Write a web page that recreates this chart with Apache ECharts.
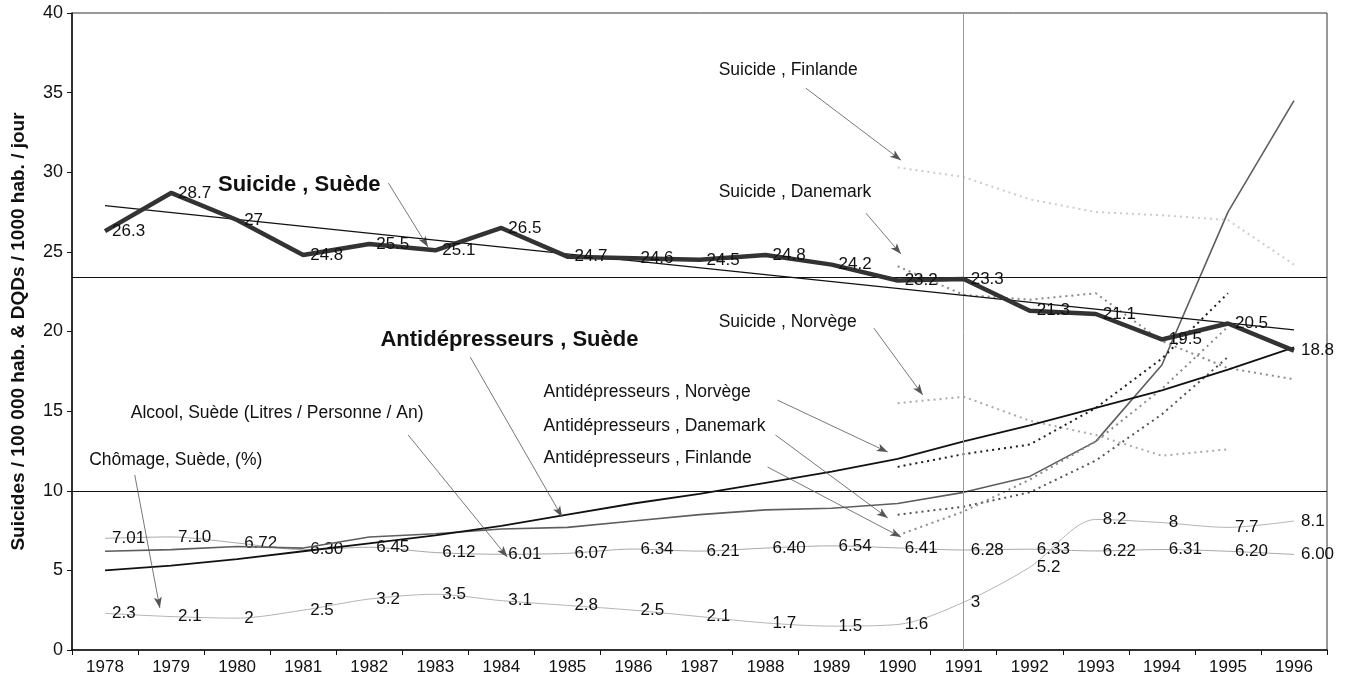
<!DOCTYPE html>
<html>
<head>
<meta charset="utf-8">
<script src="https://cdn.jsdelivr.net/npm/echarts@6/dist/echarts.min.js"></script>
<style>
  html, body { margin: 0; padding: 0; background: #fff; }
  #main_chart { width: 1345px; height: 686px; }
</style>
</head>
<body>
<div id="main_chart"></div>
<script>
// annees
var annees = ['1978', '1979', '1980', '1981', '1982', '1983', '1984', '1985', '1986', '1987',
              '1988', '1989', '1990', '1991', '1992', '1993', '1994', '1995', '1996'];
var graduationsY = [0, 5, 10, 15, 20, 25, 30, 35, 40];

// Suède
var suicideSuede = [26.3, 28.7, 27, 24.8, 25.5, 25.1, 26.5, 24.7, 24.6, 24.5, 24.8, 24.2, 23.2, 23.3, 21.3, 21.1, 19.5, 20.5, 18.8];
var tendanceSuicide = [27.9, null, null, null, null, null, null, null, null, null, null, null, null, null, null, null, null, null, 20.1];
var antidepSuede = [5.0, 5.3, 5.7, 6.2, 6.7, 7.2, 7.8, 8.5, 9.2, 9.8, 10.5, 11.2, 12.0, 13.1, 14.1, 15.2, 16.3, 17.6, 19.0];
var ligneGrise = [6.2, 6.3, 6.5, 6.4, 7.1, 7.3, 7.6, 7.7, 8.1, 8.5, 8.8, 8.9, 9.2, 9.9, 10.9, 13.1, 17.9, 27.5, 34.5];
var alcoolSuede = [7.01, 7.10, 6.72, 6.30, 6.45, 6.12, 6.01, 6.07, 6.34, 6.21, 6.40, 6.54, 6.41, 6.28, 6.33, 6.22, 6.31, 6.20, 6.00];
var chomageSuede = [2.3, 2.1, 2, 2.5, 3.2, 3.5, 3.1, 2.8, 2.5, 2.1, 1.7, 1.5, 1.6, 3, 5.2, 8.2, 8, 7.7, 8.1];

// autres pays (a partir de 1990)
var vide = [null, null, null, null, null, null, null, null, null, null, null, null];
var suicideFinlande = vide.concat([30.3, 29.7, 28.3, 27.5, 27.3, 27.0, 24.2]);
var suicideDanemark = vide.concat([24.1, 22.3, 22.0, 22.4, 19.4, 17.7, 17.0]);
var suicideNorvege = vide.concat([15.5, 15.9, 14.4, 13.5, 12.2, 12.6, null]);
var antidepNorvege = vide.concat([11.5, 12.3, 12.9, 15.2, 18.3, 22.4, null]);
var antidepDanemark = vide.concat([8.5, 9.0, 9.9, 11.9, 14.8, 18.4, null]);
var antidepFinlande = vide.concat([7.2, 8.7, 10.7, 13.1, 16.4, 20.3, null]);

// lignes de repere
var reperesY = [10, 23.4];
var repereX = '1991';

// annotations (x = rang de l'annee, y = valeur)
var textes = [
  { t: 'Suicide , Suède', x: 1.71, y: 29.2, gras: true },
  { t: 'Antidépresseurs , Suède', x: 4.17, y: 19.46, gras: true },
  { t: 'Alcool, Suède (Litres / Personne / An)', x: 0.39, y: 14.88 },
  { t: 'Chômage, Suède, (%)', x: -0.24, y: 11.93 },
  { t: 'Suicide , Finlande', x: 9.29, y: 36.41 },
  { t: 'Suicide , Danemark', x: 9.29, y: 28.75 },
  { t: 'Suicide , Norvège', x: 9.29, y: 20.59 },
  { t: 'Antidépresseurs , Norvège', x: 6.64, y: 16.2 },
  { t: 'Antidépresseurs , Danemark', x: 6.64, y: 14.06 },
  { t: 'Antidépresseurs , Finlande', x: 6.64, y: 12.05 }
];
var fleches = [
  [[4.29, 29.32], [4.89, 25.3]],
  [[5.53, 18.39], [6.92, 8.35]],
  [[4.59, 13.5], [6.09, 5.84]],
  [[0.45, 10.99], [0.83, 2.64]],
  [[10.61, 35.28], [12.05, 30.76]],
  [[11.52, 27.43], [12.05, 24.86]],
  [[11.64, 20.21], [12.38, 16.01]],
  [[10.18, 15.69], [11.85, 12.43]],
  [[10.15, 13.5], [11.85, 8.29]],
  [[10.03, 11.49], [12.05, 7.09]]
];

var police = 'Liberation Sans, Arial, Helvetica, sans-serif';

function etiquettes(fmt) {
  return {
    show: true, position: 'right', distance: 7, opacity: 1,
    color: '#111', fontSize: 17, fontFamily: police,
    formatter: function (p) { return fmt(p.value); }
  };
}

function pointille(nom, donnees, couleur) {
  return {
    name: nom, type: 'line', data: donnees, symbol: 'none',
    lineStyle: { color: couleur, width: 2, type: [2, 4] }, z: 3
  };
}

var myChart = echarts.init(document.getElementById('main_chart'));

var option = {
  animation: false,
  backgroundColor: '#fff',
  grid: { left: 72, right: 18, top: 13, bottom: 36, show: true, borderColor: '#333', borderWidth: 1 },
  xAxis: [
    {
      type: 'category', data: annees, boundaryGap: true,
      axisLine: { lineStyle: { color: '#111', width: 1.5 } },
      axisTick: { show: true, interval: 0, length: 5, lineStyle: { color: '#111' } },
      axisLabel: { interval: 0, color: '#111', fontSize: 17, fontFamily: police, margin: 9 },
      splitLine: { show: false }
    },
    { type: 'value', min: -0.5, max: 18.5, show: false }
  ],
  yAxis: {
    type: 'value', min: graduationsY[0], max: graduationsY[graduationsY.length - 1], interval: 5,
    name: 'Suicides / 100 000 hab. & DQDs / 1000 hab. / jour',
    nameLocation: 'middle', nameRotate: 90, nameGap: 44,
    nameTextStyle: { fontSize: 19, fontWeight: 'bold', color: '#111', fontFamily: police },
    axisLine: { show: true, onZero: false, lineStyle: { color: '#111', width: 1.5 } },
    axisTick: { show: true, length: 5, lineStyle: { color: '#111' } },
    axisLabel: { color: '#111', fontSize: 18, fontFamily: police, margin: 9 },
    splitLine: { show: false }
  },
  series: [
    {
      name: 'Chômage, Suède', type: 'line', data: chomageSuede, symbol: 'circle', symbolSize: 0, smooth: 0.3,
      itemStyle: { color: '#b5b5b5', opacity: 1 },
      lineStyle: { color: '#b5b5b5', width: 1 }, label: etiquettes(function (v) { return String(v); }), z: 2
    },
    {
      name: 'Alcool, Suède', type: 'line', data: alcoolSuede, symbol: 'circle', symbolSize: 0, smooth: 0.3,
      itemStyle: { color: '#a8a8a8', opacity: 1 },
      lineStyle: { color: '#a8a8a8', width: 1 }, label: etiquettes(function (v) { return v.toFixed(2); }), z: 2
    },
    {
      name: 'Série grise', type: 'line', data: ligneGrise, symbol: 'none',
      lineStyle: { color: '#5e5e5e', width: 1.6 }, z: 3
    },
    {
      name: 'Antidépresseurs, Suède', type: 'line', data: antidepSuede, symbol: 'none',
      lineStyle: { color: '#111', width: 1.8 }, z: 4
    },
    pointille('Suicide, Finlande', suicideFinlande, '#cccccc'),
    pointille('Suicide, Danemark', suicideDanemark, '#8a8a8a'),
    pointille('Suicide, Norvège', suicideNorvege, '#ababab'),
    pointille('Antidépresseurs, Norvège', antidepNorvege, '#1e1e1e'),
    pointille('Antidépresseurs, Danemark', antidepDanemark, '#555555'),
    pointille('Antidépresseurs, Finlande', antidepFinlande, '#8c8c8c'),
    {
      name: 'Tendance suicide', type: 'line', data: tendanceSuicide, symbol: 'none', connectNulls: true,
      lineStyle: { color: '#111', width: 1.2 }, z: 5
    },
    {
      name: 'Suicide, Suède', type: 'line', data: suicideSuede, symbol: 'circle', symbolSize: 0,
      itemStyle: { color: '#333', opacity: 1 },
      lineStyle: { color: '#333', width: 4.5 }, label: etiquettes(function (v) { return String(v); }), z: 6,
      markLine: {
        silent: true, symbol: 'none', label: { show: false },
        data: reperesY.map(function (v) { return { yAxis: v, lineStyle: { color: '#111', width: 1.2, type: 'solid' } }; })
          .concat([{ xAxis: repereX, lineStyle: { color: '#999', width: 1, type: 'solid' } }])
      }
    },
    {
      name: 'annotations', type: 'scatter', xAxisIndex: 1, yAxisIndex: 0,
      symbolSize: 0, itemStyle: { color: '#111', opacity: 1 }, silent: true, z: 7,
      data: textes.map(function (a) {
        return {
          value: [a.x, a.y], name: a.t,
          label: {
            show: true, position: 'right', distance: 0, formatter: a.t, opacity: 1,
            color: '#111', fontFamily: police,
            fontSize: a.gras ? 22 : 17.5, fontWeight: a.gras ? 'bold' : 'normal'
          }
        };
      }),
      markLine: {
        silent: true, symbol: ['none', 'arrow'], symbolSize: [6, 11],
        label: { show: false },
        lineStyle: { color: '#555', width: 0.8, type: 'solid' },
        data: fleches.map(function (f) { return [{ coord: f[0] }, { coord: f[1] }]; })
      }
    }
  ]
};
myChart.setOption(option);
</script>
</body>
</html>
